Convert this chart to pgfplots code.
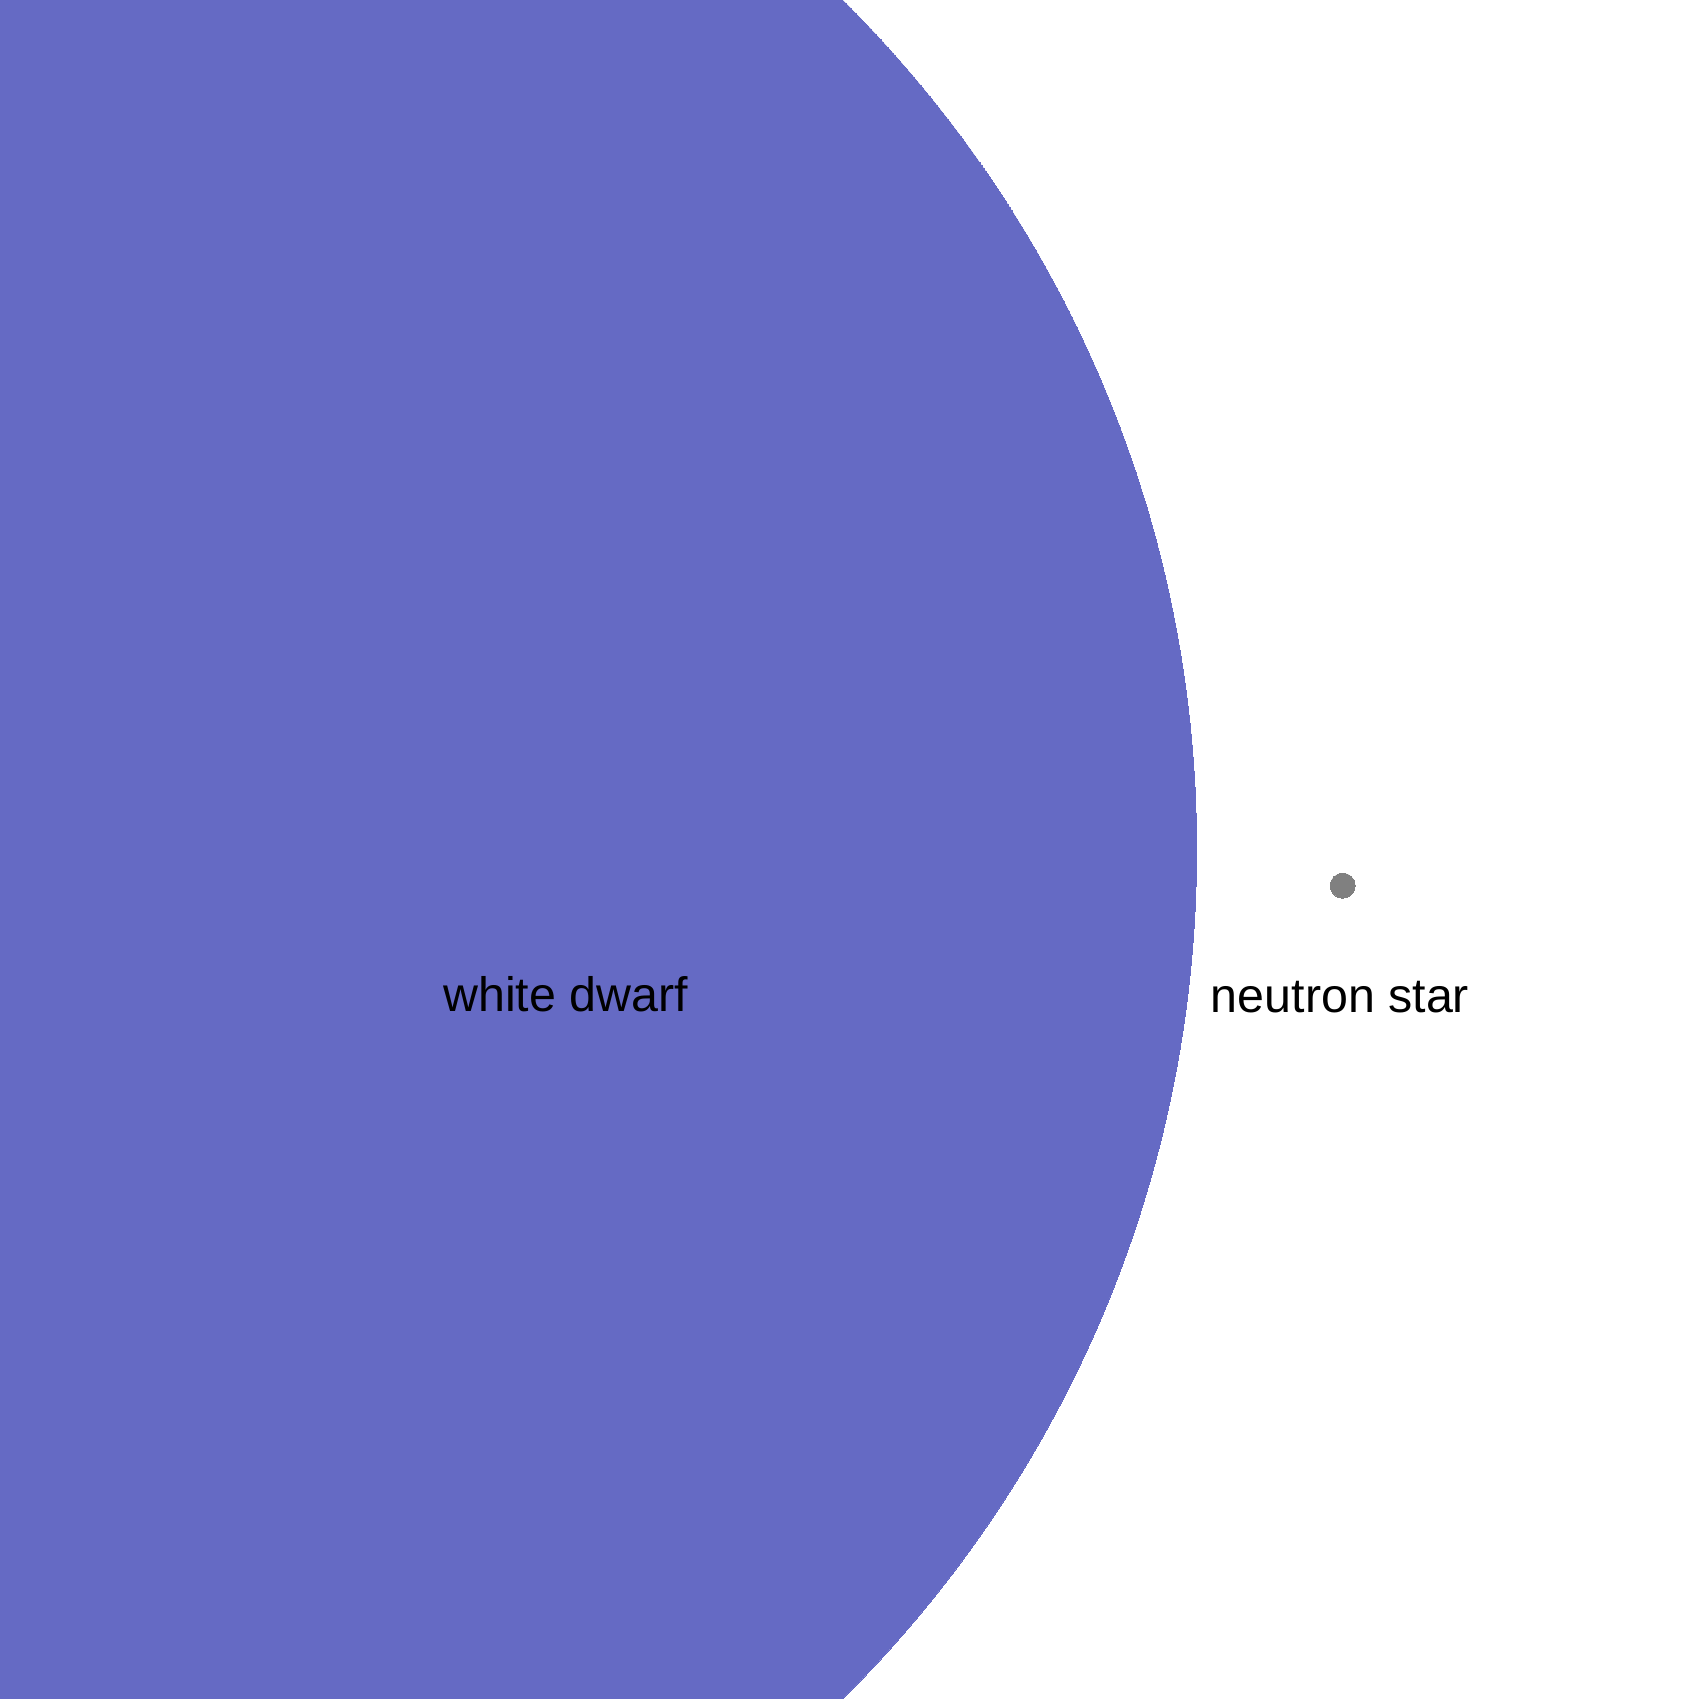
\documentclass[border=0pt]{standalone}
\usepackage{pgfplots}
\pgfplotsset{compat=1.18}
\usepackage{fontspec}
\setmainfont{Liberation Sans}
\definecolor{wdblue}{RGB}{101,106,196}
\definecolor{nsgray}{RGB}{128,128,128}
\begin{document}
\begin{tikzpicture}
\path[use as bounding box] (0,0) rectangle (10cm,10cm);
\begin{axis}[
  at={(0,0)}, anchor=south west,
  scale only axis, width=10cm, height=10cm,
  xmin=0, xmax=1699, ymin=0, ymax=1699,
  axis lines=none, clip=true, clip mode=global,
]
\addplot[only marks, mark=*, mark size=200.3pt, mark options={draw=wdblue, fill=wdblue, line width=0pt}] coordinates {(0.5,849.5)};
\addplot[only marks, mark=*, mark size=2.1pt, mark options={draw=nsgray, fill=nsgray, line width=0pt}] coordinates {(1342.7,813.3)};
\coordinate (wd) at (axis cs:565.5,687);
\coordinate (ns) at (axis cs:1340,686);
\end{axis}
\node[anchor=base, inner sep=0pt, font=\fontsize{8.1}{10}\selectfont] at (wd) {white dwarf};
\node[anchor=base, inner sep=0pt, font=\fontsize{8.1}{10}\selectfont] at (ns) {neutron star};
\end{tikzpicture}
\end{document}
